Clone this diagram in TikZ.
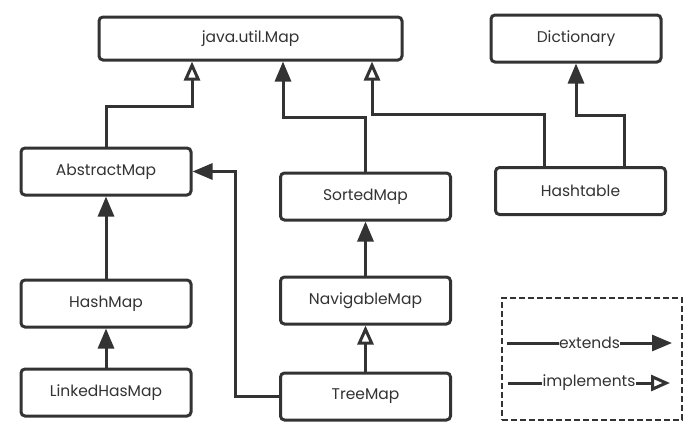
\documentclass[tikz,border=0pt]{standalone}
\usepackage{fontspec}
\setmainfont{Poppins}
\usepackage{xcolor}
\usepackage{tikz}
\usetikzlibrary{arrows.meta,positioning}
\definecolor{umlgray}{RGB}{51,51,51}

\begin{document}
\begin{tikzpicture}[x=1pt,y=-1pt,font=\fontsize{15.5}{18}\selectfont,text=umlgray,
  cls/.style={draw=umlgray,line width=3pt,rounded corners=4pt,fill=white,
              minimum width=170pt,minimum height=47pt,align=center},
  ext/.style={draw=umlgray,line width=3pt,-{Triangle[length=20pt,width=16pt]}},
  impl/.style={draw=umlgray,line width=3pt,-{Triangle[open,length=19pt,width=16pt]}}]

  \useasboundingbox (0,0) rectangle (697,432);

  % classes and interfaces
  \node[cls,minimum width=303pt,minimum height=43pt] (map) at (250.5,38.5) {java.util.Map};
  \node[cls] (dict) at (576,38.5) {Dictionary};
  \node[cls] (abs) at (106,171.5) {AbstractMap};
  \node[cls] (sorted) at (365.5,196.5) {SortedMap};
  \node[cls] (htable) at (580.5,191) {Hashtable};
  \node[cls,below=82pt of abs] (hmap) {HashMap};
  \node[cls,below=39pt of hmap] (lhmap) {LinkedHasMap};
  \node[cls,below=54pt of sorted] (nav) {NavigableMap};
  \node[cls,below=46pt of nav] (tree) {TreeMap};

  % inheritance
  \draw[impl] (abs.north) |- (192,106) -- (192,106 |- map.south);
  \draw[ext] (sorted.north) |- (283,117) -- (283,117 |- map.south);
  \draw[impl] ([xshift=-36.5pt]htable.north) |- (372,114) -- (372,114 |- map.south);
  \draw[ext] ([xshift=43.5pt]htable.north) |- (576,115) -- (dict.south);
  \draw[ext] (hmap) -- (abs);
  \draw[ext] (lhmap) -- (hmap);
  \draw[ext] (tree.west) -| (235,171.5) -- (abs.east);
  \draw[ext] (nav) -- (sorted);
  \draw[impl] (tree) -- (nav);

  % legend
  \node[draw=umlgray,line width=1.3pt,dash pattern=on 6pt off 3pt,
        minimum width=180pt,minimum height=122pt] (legend) at (592,359) {};
  \coordinate (ea) at (507,343);
  \coordinate (eb) at (672,343);
  \coordinate (ia) at (508,383);
  \coordinate (ib) at (670,383);
  \draw[ext] (ea) -- node[fill=white,inner sep=0.5pt]{extends} (eb);
  \draw[impl] (ia) -- node[fill=white,inner sep=0.5pt]{implements} (ib);

\end{tikzpicture}
\end{document}
